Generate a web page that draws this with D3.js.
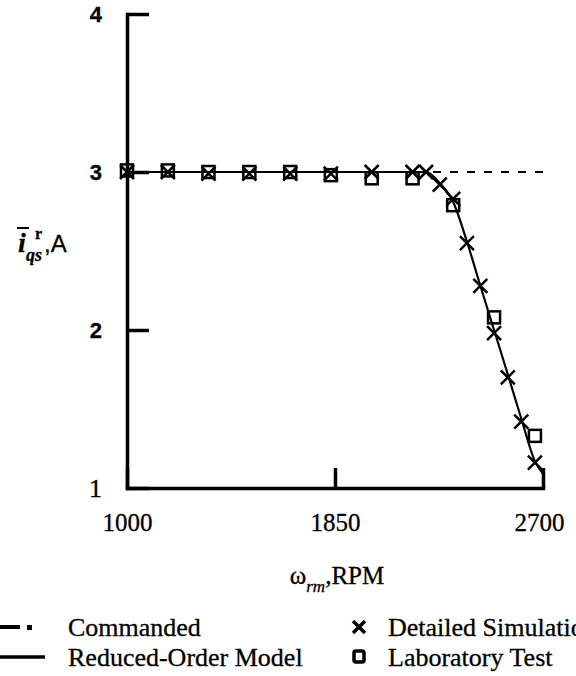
<!DOCTYPE html>
<meta charset="utf-8">
<style>
body { margin: 0; background: #fff; }
svg { display: block; font-family: "Liberation Serif", "Times New Roman", serif; }
.axis path, .axis line { stroke: #000; stroke-width: 3.5px; }
.axis text { fill: #000; }
text { stroke: #000; stroke-width: 0.3px; }
</style>
<svg width="576" height="676"></svg>
<script src="https://d3js.org/d3.v7.min.js"></script>
<script>
// speed (RPM) vs q-axis current (A)
var speedTicks = [1000, 1850, 2700];
var currentTicks = [1, 2, 3, 4];

var commandedSpeed = [1000, 2700];
var commandedCurrent = [3, 3];

var romSpeed = [1000, 2222, 2278, 2333, 2389, 2444, 2500, 2556, 2611, 2667, 2700];
var romCurrent = [3.0, 3.0, 2.93, 2.81, 2.56, 2.28, 2.0, 1.72, 1.44, 1.17, 1.09];

var simSpeed = [1000, 1167, 1333, 1500, 1667, 1833, 2000, 2167, 2222, 2278, 2333, 2389, 2444, 2500, 2556, 2611, 2667];
var simCurrent = [3.0, 3.0, 2.99, 2.99, 2.99, 2.99, 3.0, 3.0, 3.0, 2.92, 2.83, 2.55, 2.28, 1.98, 1.70, 1.42, 1.16];

var labSpeed = [1000, 1167, 1333, 1500, 1667, 1833, 2000, 2167, 2333, 2500, 2667];
var labCurrent = [3.01, 3.01, 3.0, 3.0, 3.0, 2.98, 2.96, 2.96, 2.79, 2.08, 1.33];

var legendItems = ["Commanded", "Reduced-Order Model", "Detailed Simulation", "Laboratory Test"];

var svg = d3.select("svg");

var x = d3.scaleLinear().domain([1000, 2700]).range([127, 543]);
var y = d3.scaleLinear().domain([1, 4]).range([488, 14]);

function pairs(xs, ys) {
  return xs.map(function(v, i) { return [v, ys[i]]; });
}

// axes
var yAxis = svg.append("g")
    .attr("class", "axis")
    .attr("transform", "translate(" + x(1000) + ",0)")
    .call(d3.axisLeft(y).tickValues(currentTicks).tickSizeInner(-22).tickSizeOuter(0).tickPadding(25).tickFormat(d3.format("d")));
yAxis.selectAll("text")
    .attr("font-family", function(d) { return d === 1 ? "Liberation Serif, serif" : "Liberation Sans, Arial, sans-serif"; })
    .attr("font-weight", function(d) { return d === 1 ? "normal" : "bold"; })
    .attr("font-size", function(d) { return d === 1 ? 26 : 22; });

var xAxis = svg.append("g")
    .attr("class", "axis")
    .attr("transform", "translate(0," + y(1) + ")")
    .call(d3.axisBottom(x).tickValues(speedTicks).tickSizeInner(-20).tickSizeOuter(0).tickPadding(25).tickFormat(d3.format("d")));
xAxis.selectAll("text")
    .attr("font-family", "Liberation Serif, serif")
    .attr("font-size", 25)
    .attr("dx", function(d) { return d === 2700 ? -4 : 0; });

svg.selectAll(".axis path.domain").attr("stroke-linecap", "square");

// commanded (dashed)
var line = d3.line().x(function(d) { return x(d[0]); }).y(function(d) { return y(d[1]); });

svg.append("path")
    .attr("d", line(pairs(commandedSpeed, commandedCurrent)))
    .attr("fill", "none")
    .attr("stroke", "#000")
    .attr("stroke-width", 2)
    .attr("stroke-dasharray", "8,9");

// reduced-order model
svg.append("path")
    .attr("d", line.curve(d3.curveMonotoneX)(pairs(romSpeed, romCurrent)))
    .attr("fill", "none")
    .attr("stroke", "#000")
    .attr("stroke-width", 2.2);

// laboratory test squares
svg.append("g").selectAll("rect")
  .data(pairs(labSpeed, labCurrent))
  .enter().append("rect")
    .attr("x", function(d) { return x(d[0]) - 6; })
    .attr("y", function(d) { return y(d[1]) - 6; })
    .attr("width", 12)
    .attr("height", 12)
    .attr("fill", "none")
    .attr("stroke", "#000")
    .attr("stroke-width", 2.5);

// detailed simulation crosses
var cross = "M-7,-7L7,7M-7,7L7,-7";
svg.append("g").selectAll("path")
  .data(pairs(simSpeed, simCurrent))
  .enter().append("path")
    .attr("transform", function(d) { return "translate(" + x(d[0]) + "," + y(d[1]) + ")"; })
    .attr("d", cross)
    .attr("stroke", "#000")
    .attr("stroke-width", 2.5);

// y label: i-bar qs r, A
var yl = svg.append("g");
yl.append("text").attr("x", 18).attr("y", 252).attr("font-size", 28)
    .attr("font-style", "italic").attr("font-weight", "bold").text("i");
yl.append("line").attr("x1", 17).attr("x2", 29).attr("y1", 228).attr("y2", 228)
    .attr("stroke", "#000").attr("stroke-width", 2);
yl.append("text").attr("x", 26).attr("y", 261).attr("font-size", 18)
    .attr("font-style", "italic").attr("font-weight", "bold").text("qs");
yl.append("text").attr("x", 35).attr("y", 239).attr("font-size", 16)
    .attr("font-weight", "bold").text("r");
yl.append("text").attr("x", 44).attr("y", 252).attr("font-size", 24)
    .attr("font-family", "Liberation Sans, Arial, sans-serif").text(",A");

// x label
var xl = svg.append("text").attr("x", 337).attr("y", 584).attr("font-size", 25)
    .attr("text-anchor", "middle");
xl.append("tspan").text("\u03c9");
xl.append("tspan").attr("dy", 8).attr("font-size", 17).attr("font-style", "italic").text("rm");
xl.append("tspan").attr("dy", -8).text(",RPM");

// legend
var leg = svg.append("g").attr("font-size", 26);
leg.append("line").attr("x1", 0).attr("x2", 20).attr("y1", 627).attr("y2", 627)
    .attr("stroke", "#000").attr("stroke-width", 4);
leg.append("rect").attr("x", 27).attr("y", 625).attr("width", 5).attr("height", 5).attr("fill", "#000");
leg.append("text").attr("x", 68).attr("y", 636).text(legendItems[0]);

leg.append("line").attr("x1", 0).attr("x2", 45).attr("y1", 657).attr("y2", 657)
    .attr("stroke", "#000").attr("stroke-width", 3.5);
leg.append("text").attr("x", 68).attr("y", 666).text(legendItems[1]);

leg.append("path").attr("transform", "translate(359,627)").attr("d", "M-6,-6L6,6M-6,6L6,-6")
    .attr("stroke", "#000").attr("stroke-width", 3.5);
leg.append("text").attr("x", 388).attr("y", 636).text(legendItems[2]);

leg.append("rect").attr("x", 354).attr("y", 651).attr("width", 10).attr("height", 11).attr("rx", 2)
    .attr("fill", "none").attr("stroke", "#000").attr("stroke-width", 3.5);
leg.append("text").attr("x", 388).attr("y", 666).text(legendItems[3]);
</script>
